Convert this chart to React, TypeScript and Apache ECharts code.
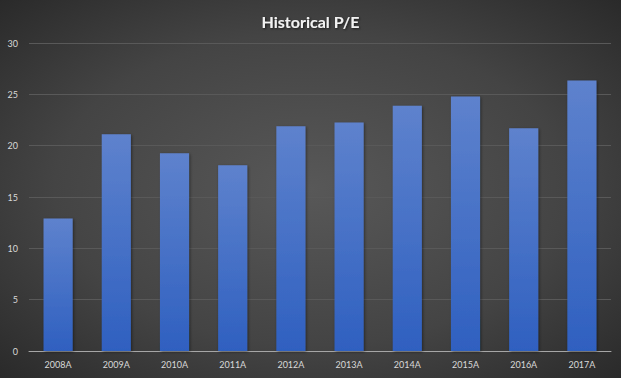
import React, { useEffect, useRef } from "react";
import * as echarts from "echarts";

const categories = ["2008A", "2009A", "2010A", "2011A", "2012A", "2013A", "2014A", "2015A", "2016A", "2017A"];
const peValues = [12.9, 21.1, 19.25, 18.1, 21.9, 22.25, 23.9, 24.8, 21.7, 26.35];
const yTicks = { min: 0, max: 30, interval: 5 };

export default function App() {
  const ref = useRef<HTMLDivElement>(null);
  useEffect(() => {
    document.body.style.margin = "0";
    const chart = echarts.init(ref.current!, null, { renderer: "svg" });
    chart.setOption({
      animation: false,
      backgroundColor: {
        type: "radial",
        x: 0.5,
        y: 0.5,
        r: 0.75,
        colorStops: [
          { offset: 0, color: "#585858" },
          { offset: 0.55, color: "#444444" },
          { offset: 1, color: "#262626" },
        ],
      },
      title: {
        text: "Historical P/E",
        left: "center",
        top: 8,
        textStyle: {
          color: "#f2f2f2",
          fontFamily: "Lato",
          fontWeight: "bold",
          fontSize: 16,
          letterSpacing: 1.8,
          textShadowColor: "rgba(0,0,0,0.6)",
          textShadowBlur: 2,
          textShadowOffsetX: 1,
          textShadowOffsetY: 1,
        },
      },
      grid: { left: 29, right: 10, top: 43, bottom: 27, containLabel: false },
      xAxis: {
        type: "category",
        data: categories,
        axisLine: { lineStyle: { color: "#a6a6a6", width: 1 } },
        axisTick: { show: false },
        axisLabel: { color: "#d9d9d9", fontFamily: "Lato", fontSize: 9, margin: 9 },
      },
      yAxis: {
        type: "value",
        min: yTicks.min,
        max: yTicks.max,
        interval: yTicks.interval,
        axisLine: { show: false },
        axisTick: { show: false },
        axisLabel: { color: "#d9d9d9", fontFamily: "Lato", fontSize: 9, margin: 11 },
        splitLine: { lineStyle: { color: "#595959", width: 1 } },
      },
      series: [
        {
          type: "bar",
          data: peValues,
          barWidth: "50%",
          itemStyle: {
            color: new echarts.graphic.LinearGradient(0, 0, 0, 1, [
              { offset: 0, color: "#5e82cd" },
              { offset: 1, color: "#2f60c0" },
            ]),
            shadowColor: "rgba(0,0,0,0.45)",
            shadowBlur: 3,
            shadowOffsetX: 1,
            shadowOffsetY: 1,
          },
        },
      ],
    });
    return () => chart.dispose();
  }, []);
  return <div ref={ref} style={{ width: 621, height: 378 }} />;
}
